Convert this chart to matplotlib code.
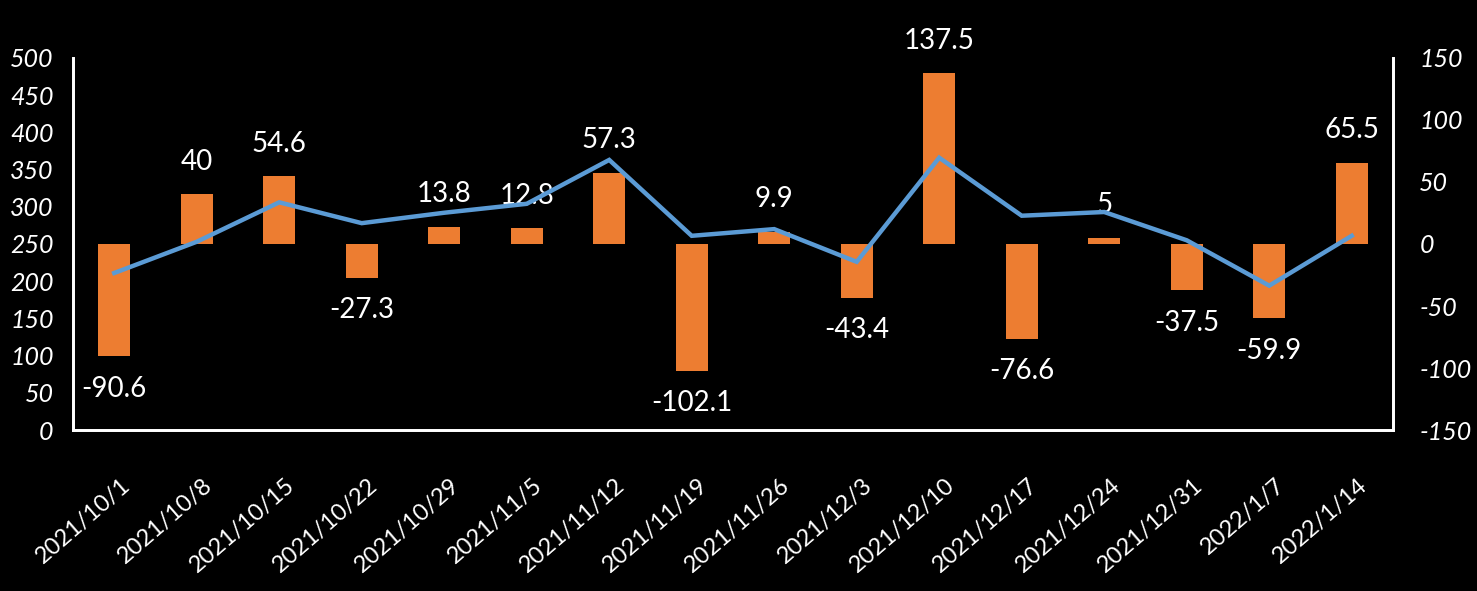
import matplotlib
matplotlib.use("Agg")
import matplotlib.pyplot as plt
import matplotlib.transforms as mtransforms

dates = ["2021/10/1", "2021/10/8", "2021/10/15", "2021/10/22", "2021/10/29",
         "2021/11/5", "2021/11/12", "2021/11/19", "2021/11/26", "2021/12/3",
         "2021/12/10", "2021/12/17", "2021/12/24", "2021/12/31", "2022/1/7",
         "2022/1/14"]
changes = [-90.6, 40, 54.6, -27.3, 13.8, 12.8, 57.3, -102.1, 9.9, -43.4,
           137.5, -76.6, 5, -37.5, -59.9, 65.5]
levels = [211, 253, 306, 278, 292, 304, 363, 261, 270, 226, 366, 288, 293,
          255, 194, 261]

BAR_COLOR = "#ED7D31"
LINE_COLOR = "#5B9BD5"
FONT = "Lato"

plt.rcParams["font.family"] = [FONT, "DejaVu Sans"]
plt.rcParams["axes.unicode_minus"] = False

fig = plt.figure(figsize=(14.77, 5.91), dpi=100, facecolor="black")
ax = fig.add_axes([0.0494, 0.2724, 0.8937, 0.6295])
ax2 = ax.twinx()

x = list(range(len(dates)))

# bars on the right axis, line on the left one, line drawn on top
ax2.bar(x, changes, width=0.39, color=BAR_COLOR, zorder=2)
ax.plot(x, levels, color=LINE_COLOR, linewidth=3.2, zorder=3,
        solid_joinstyle="miter")
ax.set_zorder(ax2.get_zorder() + 1)
ax.patch.set_visible(False)
ax2.patch.set_facecolor("black")

for xi, v in zip(x, changes):
    off = 14 if v >= 0 else -14
    ax2.annotate(f"{v:g}", (xi, v), xytext=(0, off), textcoords="offset points",
                 ha="center", va="bottom" if v >= 0 else "top",
                 color="white", fontsize=20, clip_on=False, zorder=5)

ax.set_xlim(-0.5, len(dates) - 0.5)
ax.set_ylim(0, 500)
ax.set_yticks(range(0, 501, 50))
ax2.set_ylim(-150, 150)
ax2.set_yticks(range(-150, 151, 50))

for a in (ax, ax2):
    a.spines["top"].set_visible(False)
    for side in ("left", "right", "bottom"):
        a.spines[side].set_color("white")
        a.spines[side].set_linewidth(2)
    a.tick_params(length=0, colors="white")

ax.tick_params(axis="y", pad=14, labelsize=18)
ax2.tick_params(axis="y", pad=19, labelsize=18)
for lbl in ax.get_yticklabels() + ax2.get_yticklabels():
    lbl.set_fontstyle("italic")

ax.set_xticks(x)
ax.set_xticklabels(dates, rotation=41, ha="right", va="top",
                   rotation_mode="anchor", fontsize=17, color="white")
ax.tick_params(axis="x", pad=32)
shift = mtransforms.ScaledTranslation(6 / 100, 0, fig.dpi_scale_trans)
for lbl in ax.get_xticklabels():
    lbl.set_transform(lbl.get_transform() + shift)

fig.savefig("out.png", dpi=100, facecolor="black")
